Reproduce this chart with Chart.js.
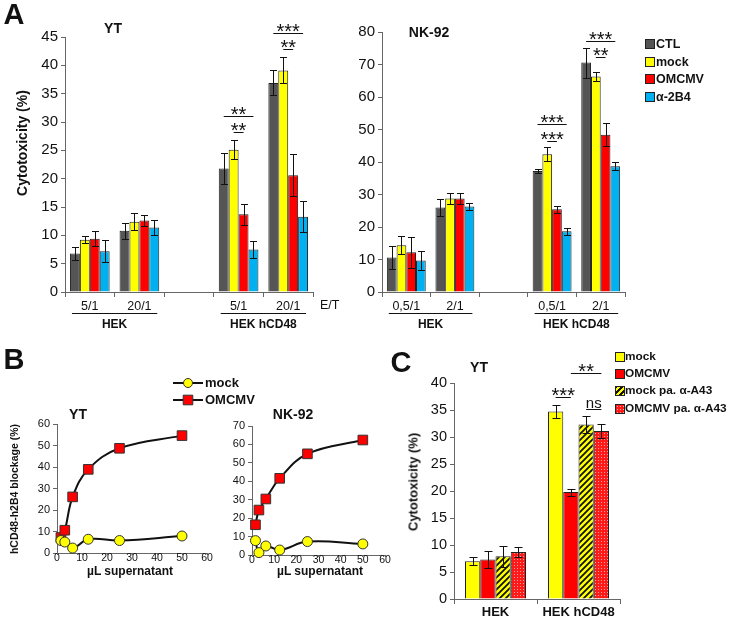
<!DOCTYPE html>
<html>
<head>
<meta charset="utf-8">
<script src="https://cdn.jsdelivr.net/npm/chart.js@4.4.1/dist/chart.umd.min.js"></script>
<style>
body{margin:0;background:#fff;}
#wrap{position:relative;width:733px;height:620px;overflow:hidden;font-family:"Liberation Sans",Arial,sans-serif;color:#111;}
#wrap canvas{position:absolute;left:0;top:0;}
.t{position:absolute;white-space:nowrap;}
.sw{position:absolute;width:8px;height:8px;border:1px solid #222;}
</style>
</head>
<body>
<div id="wrap">
<canvas id="aYT" width="733" height="620"></canvas>
<canvas id="aNK" width="733" height="620"></canvas>
<canvas id="bYT" width="733" height="620"></canvas>
<canvas id="bNK" width="733" height="620"></canvas>
<canvas id="cYT" width="733" height="620"></canvas>
</div>
<script>
// ---- data ----
const seriesA = ['CTL', 'mock', 'OMCMV', 'α-2B4'];
const ratiosYT = ['5/1', '20/1', '', '5/1', '20/1'];
const ratiosNK = ['0,5/1', '2/1', '', '0,5/1', '2/1'];

// YT cytotoxicity (%), gap at index 2
const ytCTL   = [6.8, 10.8, null, 21.8, 36.9];
const ytMock  = [9.2, 12.4, null, 25.1, 39.1];
const ytOMCMV = [9.4, 12.6, null, 13.7, 20.6];
const yt2B4   = [7.2, 11.4, null, 7.5, 13.3];
const ytCTLErr   = [1.2, 1.4, null, 2.7, 2.2];
const ytMockErr  = [0.6, 1.5, null, 1.7, 2.3];
const ytOMCMVErr = [1.3, 1.0, null, 1.9, 3.7];
const yt2B4Err   = [1.9, 1.3, null, 1.5, 2.8];

// NK-92 cytotoxicity (%)
const nkCTL   = [10.6, 26.0, null, 37.2, 70.6];
const nkMock  = [14.4, 28.8, null, 42.4, 66.3];
const nkOMCMV = [12.2, 28.8, null, 25.5, 48.4];
const nk2B4   = [9.7, 26.3, null, 18.7, 38.7];
const nkCTLErr   = [3.5, 2.6, null, 0.6, 4.6];
const nkMockErr  = [2.8, 1.6, null, 2.2, 1.3];
const nkOMCMVErr = [4.7, 1.8, null, 1.1, 3.5];
const nk2B4Err   = [2.8, 1.2, null, 1.1, 1.2];

// B: blockage (%) vs µL supernatant
const supernatant = [1.5625, 3.125, 6.25, 12.5, 25, 50];
const ytMockB  = [5.8, 5.1, 2.3, 6.4, 5.8, 7.9];
const ytOmcmvB = [7.2, 10.6, 26.1, 38.9, 48.7, 54.6];
const nkMockB  = [7.8, 1.3, 4.9, 2.7, 7.3, 6.0];
const nkOmcmvB = [16.4, 24.4, 30.4, 41.6, 54.9, 62.4];

// C: YT cytotoxicity (%)
const targetsC = ['HEK', 'HEK hCD48'];
const seriesC = ['mock', 'OMCMV', 'mock pa. α-A43', 'OMCMV pa. α-A43'];
const cMock     = [7.0, 34.7];
const cOMCMV    = [7.3, 19.8];
const cMockPa   = [7.9, 32.3];
const cOMCMVPa  = [8.7, 31.1];
const cMockErr    = [0.7, 1.25];
const cOMCMVErr   = [1.5, 0.65];
const cMockPaErr  = [2.0, 1.65];
const cOMCMVPaErr = [0.9, 1.3];

// ---- styles ----
const colA = ['#555555', '#ffff00', '#ff0000', '#00b0f0'];
const W = 733, H = 620;

Chart.defaults.font.family = '"Liberation Sans", Arial, sans-serif';
Chart.defaults.color = '#111';
Chart.defaults.plugins.legend.display = false;
Chart.defaults.plugins.tooltip.enabled = false;

function stripes() {
  const c = document.createElement('canvas');
  c.width = 6; c.height = 6;
  const g = c.getContext('2d');
  g.fillStyle = '#ffff00'; g.fillRect(0, 0, 6, 6);
  g.strokeStyle = '#111'; g.lineWidth = 1.8;
  g.beginPath();
  g.moveTo(-1, 7); g.lineTo(7, -1);
  g.moveTo(-4, 4); g.lineTo(4, -4);
  g.moveTo(2, 10); g.lineTo(10, 2);
  g.stroke();
  return g.createPattern(c, 'repeat');
}
function dots() {
  const c = document.createElement('canvas');
  c.width = 3; c.height = 3;
  const g = c.getContext('2d');
  g.fillStyle = '#ff1a1a'; g.fillRect(0, 0, 3, 3);
  g.fillStyle = '#ffa0a0'; g.fillRect(1, 1, 1, 1);
  return g.createPattern(c, 'repeat');
}

// error bars from arrays
Chart.register({
  id: 'errbars',
  afterDatasetsDraw(chart, args, opts) {
    if (!opts.errors) return;
    const ctx = chart.ctx, ys = chart.scales.y;
    ctx.save();
    ctx.strokeStyle = '#111';
    ctx.lineWidth = 1;
    opts.errors.forEach((errs, d) => {
      const vals = chart.data.datasets[d].data;
      chart.getDatasetMeta(d).data.forEach((el, i) => {
        const v = vals[i], e = errs[i];
        if (v == null || e == null) return;
        const x = Math.round(el.x) + 0.5;
        const y1 = Math.round(ys.getPixelForValue(v + e)) + 0.5;
        const y2 = Math.round(ys.getPixelForValue(v - e)) + 0.5;
        ctx.beginPath();
        ctx.moveTo(x, y1); ctx.lineTo(x, y2);
        ctx.moveTo(x - opts.cap, y1); ctx.lineTo(x + opts.cap, y1);
        ctx.moveTo(x - opts.cap, y2); ctx.lineTo(x + opts.cap, y2);
        ctx.stroke();
      });
    });
    ctx.restore();
  }
});

// significance brackets
Chart.register({
  id: 'sig',
  afterDatasetsDraw(chart, args, opts) {
    if (!opts.marks) return;
    const ctx = chart.ctx, ys = chart.scales.y;
    ctx.save();
    ctx.strokeStyle = '#111';
    ctx.fillStyle = '#111';
    ctx.lineWidth = 1;
    ctx.textAlign = 'center';
    ctx.textBaseline = 'alphabetic';
    for (const [cat, s1, s2, val, label] of opts.marks) {
      const x1 = chart.getDatasetMeta(s1).data[cat].x;
      const x2 = chart.getDatasetMeta(s2).data[cat].x;
      const y = Math.round(ys.getPixelForValue(val)) + 0.5;
      ctx.beginPath();
      ctx.moveTo(x1, y); ctx.lineTo(x2, y);
      ctx.stroke();
      ctx.font = (label === 'ns' ? 15 : 20) + 'px "Liberation Sans", Arial';
      const m = ctx.measureText(label);
      // put the bottom of the glyphs just above the line
      ctx.fillText(label, (x1 + x2) / 2, y - 2 - m.actualBoundingBoxDescent);
    }
    ctx.restore();
  }
});

// grouping lines under the category axis
Chart.register({
  id: 'groups',
  afterDraw(chart, args, opts) {
    if (!opts.items) return;
    const ctx = chart.ctx, xs = chart.scales.x;
    const cw = xs.getPixelForValue(1) - xs.getPixelForValue(0);
    ctx.save();
    ctx.strokeStyle = '#111';
    ctx.fillStyle = '#111';
    ctx.lineWidth = 1;
    ctx.font = 'bold 12px "Liberation Sans", Arial';
    ctx.textAlign = 'center';
    ctx.textBaseline = 'middle';
    for (const [c1, c2, label] of opts.items) {
      const x1 = xs.getPixelForValue(c1) - opts.ext * cw;
      const x2 = xs.getPixelForValue(c2) + opts.ext * cw;
      const y = Math.round(xs.top + opts.line) + 0.5;
      ctx.beginPath();
      ctx.moveTo(x1, y); ctx.lineTo(x2, y);
      ctx.stroke();
      ctx.fillText(label, (x1 + x2) / 2, xs.top + opts.text);
    }
    ctx.restore();
  }
});

// legend for panel B
Chart.register({
  id: 'blegend',
  afterDraw(chart, args, opts) {
    if (!opts.items) return;
    const ctx = chart.ctx;
    ctx.save();
    opts.items.forEach((it, k) => {
      const y = opts.y + k * opts.gap;
      ctx.strokeStyle = '#111';
      ctx.lineWidth = 2;
      ctx.beginPath();
      ctx.moveTo(opts.x, y); ctx.lineTo(opts.x + 30, y);
      ctx.stroke();
      const ds = chart.data.datasets[it];
      ctx.fillStyle = ds.pointBackgroundColor;
      ctx.strokeStyle = '#333';
      ctx.lineWidth = 1;
      ctx.beginPath();
      if (ds.pointStyle === 'rect') {
        const s = ds.pointRadius * Math.SQRT1_2;
        ctx.rect(opts.x + 15 - s, y - s, 2 * s, 2 * s);
      } else {
        ctx.arc(opts.x + 15, y, ds.pointRadius - 0.5, 0, Math.PI * 2);
      }
      ctx.fill(); ctx.stroke();
      ctx.fillStyle = '#111';
      ctx.font = 'bold 13px "Liberation Sans", Arial';
      ctx.textBaseline = 'middle';
      ctx.fillText(ds.label, opts.x + 32, y);
    });
    ctx.restore();
  }
});

function pad(box, yW, xH) {
  return {left: box.l - yW, top: box.t, right: W - box.r, bottom: H - box.b - xH};
}
function yAxis(max, step, w, size) {
  return {
    min: 0, max: max,
    ticks: {stepSize: step, font: {size: size}, padding: 3, color: '#111'},
    grid: {drawOnChartArea: false, drawTicks: true, tickLength: 4, color: '#666'},
    border: {color: '#666', width: 1},
    afterFit: s => { s.width = w; }
  };
}
function catAxis(h, size, weight, padding) {
  return {
    ticks: {font: {size: size, weight: weight}, padding: padding, color: '#111', maxRotation: 0, autoSkip: false},
    grid: {drawOnChartArea: false, drawTicks: true, tickLength: 5, color: '#666', offset: true},
    border: {color: '#666', width: 1},
    afterFit: s => { s.height = h; }
  };
}
function linAxis(max, h) {
  return {
    type: 'linear', min: 0, max: max,
    ticks: {stepSize: 10, font: {size: 10.5}, padding: -3, color: '#111'},
    grid: {drawOnChartArea: false, drawTicks: true, tickLength: 2, color: '#666'},
    border: {color: '#666', width: 1},
    afterFit: s => { s.height = h; }
  };
}

function barsA(labels, vals, box, yMax, yStep, yW, errs, marks) {
  return {
    type: 'bar',
    data: {
      labels: labels,
      datasets: vals.map((v, k) => ({
        label: seriesA[k], data: v, backgroundColor: colA[k],
        borderColor: '#222', borderWidth: 1,
        categoryPercentage: 0.8, barPercentage: 1
      }))
    },
    options: {
      responsive: false, animation: false, devicePixelRatio: 1,
      layout: {padding: pad(box, yW, 28)},
      scales: {x: catAxis(28, 12.5, 'normal', 2), y: yAxis(yMax, yStep, yW, 15)},
      plugins: {
        errbars: {errors: errs, cap: 3.5},
        sig: {marks: marks},
        groups: {items: [[0, 1, 'HEK'], [3, 4, 'HEK hCD48']], ext: 0.36, line: 21, text: 33}
      }
    }
  };
}

new Chart(document.getElementById('aYT'), barsA(ratiosYT,
  [ytCTL, ytMock, ytOMCMV, yt2B4], {l: 65, t: 37, r: 313, b: 292}, 45, 5, 65,
  [ytCTLErr, ytMockErr, ytOMCMVErr, yt2B4Err],
  [[3, 1, 2, 28.2, '**'], [3, 0, 3, 31.1, '**'], [4, 1, 2, 42.9, '**'], [4, 0, 3, 45.7, '***']]));

new Chart(document.getElementById('aNK'), barsA(ratiosNK,
  [nkCTL, nkMock, nkOMCMV, nk2B4], {l: 382, t: 32, r: 625, b: 292}, 80, 10, 40,
  [nkCTLErr, nkMockErr, nkOMCMVErr, nk2B4Err],
  [[3, 1, 2, 46.5, '***'], [3, 0, 3, 51.7, '***'], [4, 1, 2, 72.3, '**'], [4, 0, 3, 77.2, '***']]));

function lineB(mock, omcmv, box, yMax, legend) {
  const pts = arr => arr.map((y, i) => ({x: supernatant[i], y: y}));
  return {
    type: 'scatter',
    data: {
      datasets: [
        {label: 'mock', data: pts(mock), showLine: true, tension: 0.4, clip: false,
         borderColor: '#111', borderWidth: 2, pointStyle: 'circle', pointRadius: 5,
         pointBackgroundColor: '#ffff00', pointBorderColor: '#333', pointBorderWidth: 1},
        {label: 'OMCMV', data: pts(omcmv), showLine: true, tension: 0.4, clip: false,
         borderColor: '#111', borderWidth: 2, pointStyle: 'rect', pointRadius: 6.8,
         pointBackgroundColor: '#ff0000', pointBorderColor: '#333', pointBorderWidth: 1}
      ]
    },
    options: {
      responsive: false, animation: false, devicePixelRatio: 1,
      layout: {padding: pad(box, 30, 12)},
      scales: {x: linAxis(60, 12), y: yAxis(yMax, 10, 30, 11)},
      plugins: {blegend: legend || {}}
    }
  };
}

new Chart(document.getElementById('bYT'), lineB(ytMockB, ytOmcmvB,
  {l: 57, t: 424, r: 207, b: 553}, 60, {items: [0, 1], x: 173, y: 383, gap: 17}));
new Chart(document.getElementById('bNK'), lineB(nkMockB, nkOmcmvB,
  {l: 252, t: 426, r: 385, b: 555}, 70));

new Chart(document.getElementById('cYT'), {
  type: 'bar',
  data: {
    labels: targetsC,
    datasets: [cMock, cOMCMV, cMockPa, cOMCMVPa].map((v, k) => ({
      label: seriesC[k], data: v,
      backgroundColor: ['#ffff00', '#ff0000', stripes(), dots()][k],
      borderColor: '#222', borderWidth: 1,
      categoryPercentage: 0.735, barPercentage: 1
    }))
  },
  options: {
    responsive: false, animation: false, devicePixelRatio: 1,
    layout: {padding: pad({l: 454, t: 383, r: 620, b: 599}, 40, 21)},
    scales: {x: catAxis(21, 13, 'bold', 1), y: yAxis(40, 5, 40, 14.5)},
    plugins: {
      errbars: {errors: [cMockErr, cOMCMVErr, cMockPaErr, cOMCMVPaErr], cap: 4},
      sig: {marks: [[1, 0, 1, 37.4, '***'], [1, 1, 3, 41.9, '**'], [1, 2, 3, 35.2, 'ns']]}
    }
  }
});

// ---- static text ----
const wrap = document.getElementById('wrap');
function txt(s, x, y, size, bold, align, rot) {
  const d = document.createElement('div');
  d.className = 't';
  d.textContent = s;
  d.style.left = x + 'px';
  d.style.top = y + 'px';
  d.style.fontSize = size + 'px';
  d.style.lineHeight = size + 'px';
  d.style.fontWeight = bold ? 'bold' : 'normal';
  d.style.transform = 'translate(' + (align === 'left' ? '0' : '-50%') + ',-50%)' + (rot ? ' rotate(-90deg)' : '');
  wrap.appendChild(d);
}
function swatch(x, y, bg) {
  const d = document.createElement('div');
  d.className = 'sw';
  d.style.left = x + 'px';
  d.style.top = (y - 5) + 'px';
  d.style.background = bg;
  wrap.appendChild(d);
}

txt('A', 14, 14, 29, true);
txt('YT', 113, 28, 14, true);
txt('NK-92', 429, 32, 14, true);
txt('Cytotoxicity (%)', 22, 143, 14, true, null, true);
txt('E/T', 320, 305, 12.5, false, 'left');
seriesA.forEach((s, k) => {
  swatch(645, 44 + k * 17.6, colA[k]);
  txt(s, 656, 44 + k * 17.6, 12.5, true, 'left');
});

txt('B', 14, 359, 29, true);
txt('YT', 78, 414, 14, true);
txt('NK-92', 293, 414, 14, true);
txt('hCD48-h2B4 blockage (%)', 14, 489, 10.5, true, null, true);
txt('µL supernatant', 130, 571, 12, true);
txt('µL supernatant', 320, 571, 12, true);

txt('C', 401, 362, 29, true);
txt('YT', 479, 367, 14, true);
txt('Cytotoxicity (%)', 413, 482, 13, true, null, true);
const swC = ['#ffff00', '#ff0000',
  'repeating-linear-gradient(-45deg,#ffff00 0 2px,#111 2px 4px)',
  'radial-gradient(#ffb0b0 30%, #ff1a1a 40%) 0 0/3px 3px'];
seriesC.forEach((s, k) => {
  swatch(615, 357 + k * 17.2, swC[k]);
  txt(s, 625, 357 + k * 17.2, 11.8, true, 'left');
});
</script>
</body>
</html>
